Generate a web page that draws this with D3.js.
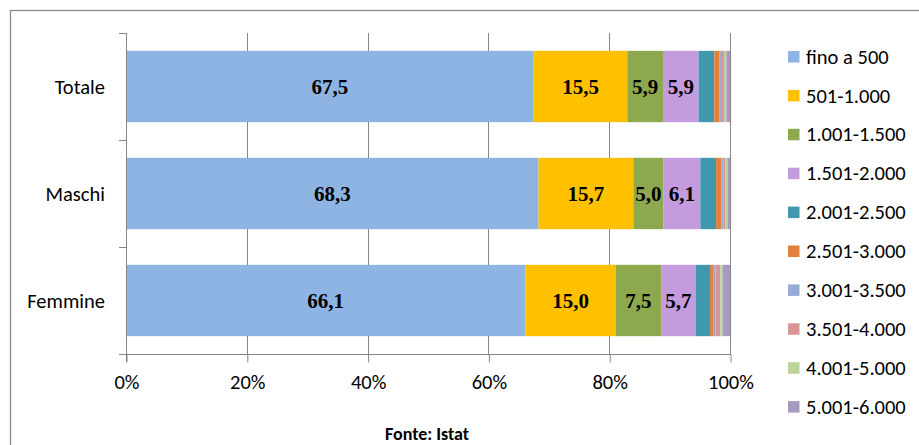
<!DOCTYPE html>
<html>
<head>
    <meta charset="utf-8">
    <script src="https://cdn.jsdelivr.net/npm/d3@7"></script>
    <style>
        body { margin: 0; background: #fff; }
    </style>
</head>
<body>
    <svg width="919" height="445" id="mainsvg"></svg>
    <script>
        const categories = ['Totale', 'Maschi', 'Femmine'];
        const classes = ['fino a 500', '501-1.000', '1.001-1.500', '1.501-2.000', '2.001-2.500',
            '2.501-3.000', '3.001-3.500', '3.501-4.000', '4.001-5.000', '5.001-6.000'];
        const totale = [67.5, 15.5, 5.9, 5.9, 2.6, 0.8, 0.3, 0.5, 0.4, 0.6];
        const maschi = [68.3, 15.7, 5.0, 6.1, 2.6, 0.9, 0.3, 0.3, 0.4, 0.4];
        const femmine = [66.1, 15.0, 7.5, 5.7, 2.4, 0.5, 0.4, 0.8, 0.4, 1.2];
        const colors = ['#8EB4E3', '#FFC000', '#8EA84E', '#C49CDE', '#4197AB',
            '#E0813C', '#95ACD6', '#D99694', '#BBD29A', '#A899C0'];
        const xTicks = [0, 0.2, 0.4, 0.6, 0.8, 1];

        const svg = d3.select('#mainsvg');
        const font = 'Calibri, Carlito, "Open Sans", "Liberation Sans", sans-serif';
        const fontSize = '20.5px';

        // chart frame
        svg.append('rect')
            .attr('x', 10.5).attr('y', 10.5)
            .attr('width', 920).attr('height', 450)
            .attr('fill', 'none').attr('stroke', '#8c8c8c').attr('stroke-width', 1.3);

        const xScale = d3.scaleLinear().domain([0, 1]).range([126, 730]);
        const yScale = d3.scaleBand().domain(categories).range([33, 354])
            .paddingInner(1 / 3).paddingOuter(1 / 6);

        const rows = categories.map((c, i) => ({ cat: c, vals: [totale, maschi, femmine][i] }));

        // vertical grid lines
        svg.append('g').selectAll('line').data(xTicks).join('line')
            .attr('x1', d => Math.round(xScale(d)) + 0.5).attr('x2', d => Math.round(xScale(d)) + 0.5)
            .attr('y1', 33).attr('y2', 354)
            .attr('stroke', '#868686').attr('stroke-width', 1);

        // stacked bars
        const stack = d3.stack().keys(d3.range(classes.length))
            .value((d, k) => d.vals[k] / 100);
        const series = stack(rows);

        const barG = svg.append('g');
        series.forEach((s, k) => {
            barG.selectAll(null).data(s).join('rect')
                .attr('x', d => xScale(d[0]))
                .attr('y', d => yScale(d.data.cat))
                .attr('width', d => xScale(d[1]) - xScale(d[0]))
                .attr('height', yScale.bandwidth())
                .attr('fill', colors[k]);
        });

        // data labels (only the readable ones)
        series.slice(0, 4).forEach(s => {
            svg.append('g').selectAll('text').data(s).join('text')
                .attr('x', d => (xScale(d[0]) + xScale(d[1])) / 2)
                .attr('y', d => yScale(d.data.cat) + yScale.bandwidth() / 2)
                .attr('dy', '0.35em')
                .attr('text-anchor', 'middle')
                .attr('font-family', '"Times New Roman", "Liberation Serif", serif')
                .attr('font-weight', 'bold')
                .attr('font-size', '21px')
                .attr('fill', '#000')
                .text(d => d3.format('.1f')((d[1] - d[0]) * 100).replace('.', ','));
        });

        // x axis
        const xAxis = d3.axisBottom(xScale).tickValues(xTicks)
            .tickFormat(d3.format('.0%')).tickSize(8).tickPadding(12);
        const xAxisG = svg.append('g').attr('transform', 'translate(0.5, 354.5)').call(xAxis);
        xAxisG.select('.domain').attr('d', 'M119,0H' + (xScale(1) + 0.5)).attr('stroke', '#868686');
        xAxisG.selectAll('.tick line').attr('stroke', '#868686');
        xAxisG.selectAll('.tick text').attr('font-family', font).attr('font-size', fontSize).attr('fill', '#000');

        // y axis
        const yTicksPos = [33, 140, 247, 354];
        const yAxisG = svg.append('g');
        yAxisG.append('line')
            .attr('x1', 126.5).attr('x2', 126.5).attr('y1', 33).attr('y2', 362)
            .attr('stroke', '#868686');
        yAxisG.selectAll('.yt').data(yTicksPos).join('line')
            .attr('x1', 119).attr('x2', 126.5)
            .attr('y1', d => d + 0.5).attr('y2', d => d + 0.5)
            .attr('stroke', '#868686');
        yAxisG.selectAll('text').data(categories).join('text')
            .attr('x', 105)
            .attr('y', d => yScale(d) + yScale.bandwidth() / 2)
            .attr('dy', '0.35em')
            .attr('text-anchor', 'end')
            .attr('font-family', font).attr('font-size', fontSize).attr('fill', '#000')
            .text(d => d);

        // legend
        const legend = svg.append('g').selectAll('g').data(classes).join('g')
            .attr('transform', (d, i) => `translate(788, ${56.5 + i * 38.9})`);
        legend.append('rect')
            .attr('x', 0).attr('y', -5.5).attr('width', 11.5).attr('height', 11.5)
            .attr('fill', (d, i) => colors[i]);
        legend.append('text')
            .attr('x', 18).attr('dy', '0.35em')
            .attr('font-family', font).attr('font-size', fontSize).attr('fill', '#000')
            .text(d => d);

        // source
        svg.append('text')
            .attr('x', 427).attr('y', 440)
            .attr('text-anchor', 'middle')
            .attr('font-family', font).attr('font-size', '18px').attr('font-weight', 'bold')
            .text('Fonte: Istat');
    </script>
</body>
</html>
